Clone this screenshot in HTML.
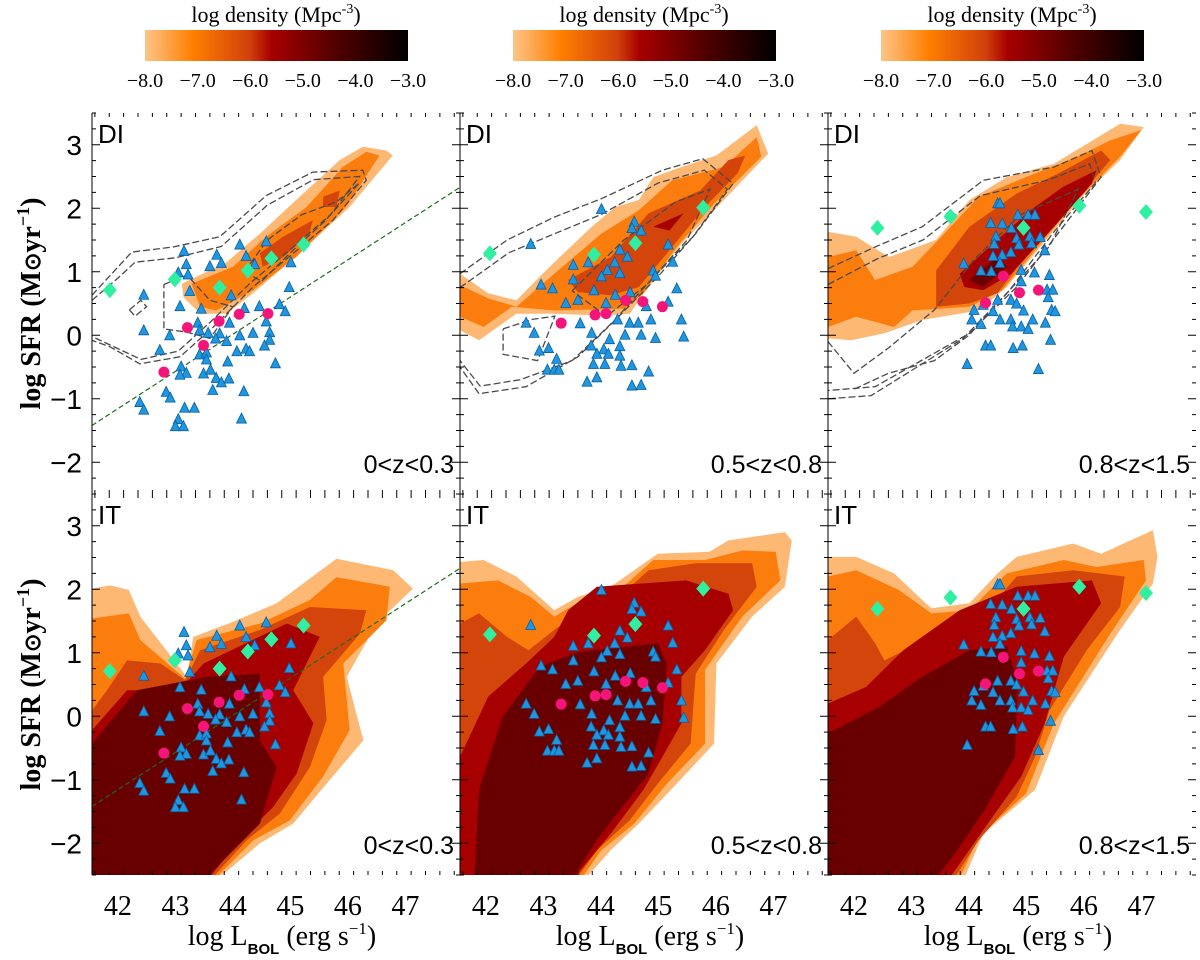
<!DOCTYPE html>
<html><head><meta charset="utf-8"><style>
html,body{margin:0;padding:0;background:#fff;}
svg{display:block;}
.sans{font-family:"Liberation Sans",sans-serif;}
.serif{font-family:"Liberation Serif",serif;}
</style></head><body>
<svg id="fig" width="1200" height="960" viewBox="0 0 1200 960" xmlns="http://www.w3.org/2000/svg">
<defs>
<linearGradient id="cbg" x1="0" x2="1" y1="0" y2="0">
<stop offset="0" stop-color="#fdc48a"/><stop offset="0.18" stop-color="#ff8000"/><stop offset="0.4" stop-color="#d0400a"/><stop offset="0.48" stop-color="#a80000"/><stop offset="0.7" stop-color="#5a0000"/><stop offset="1" stop-color="#000"/>
</linearGradient>
</defs>
</svg>
<script>
// ---------- data ----------
const levelColors = ["#fdb874","#fb7d0e","#d4450c","#a60000","#680000"];
const cbTicks = ["-8.0","-7.0","-6.0","-5.0","-4.0","-3.0"];
const xTicks = [42,43,44,45,46,47];
const yTicks = [-2,-1,0,1,2,3];
const zLabels = ["0<z<0.3","0.5<z<0.8","0.8<z<1.5"];
const fitX = [41.55,47.95];
const fitY = [-1.42,2.33];

const z1Dia = [[41.86,0.71],[42.99,0.88],[43.77,0.75],[44.26,1.02],[44.67,1.21],[45.23,1.43]];
const z1Mag = [[43.21,0.12],[43.49,-0.16],[42.80,-0.58],[43.76,0.22],[44.11,0.33],[44.61,0.34]];
const z1Tri = [[44.12,1.42],[44.58,1.47],[43.15,1.32],[43.72,1.26],[43.19,1.11],[43.60,1.08],[44.23,1.24],[44.38,1.11],[43.80,1.13],[45.01,1.14],[43.05,0.98],[43.22,0.95],[43.25,0.69],[43.97,0.62],[44.98,0.75],[42.45,0.63],[43.08,0.45],[43.45,0.41],[44.20,0.42],[44.46,0.45],[44.81,0.48],[44.91,0.37],[42.45,0.07],[42.90,-0.01],[43.39,0.19],[43.42,0.07],[43.57,0.03],[43.77,0.02],[43.70,-0.06],[43.89,-0.10],[43.94,0.19],[44.12,-0.01],[44.35,0.03],[44.58,0.21],[44.64,0.04],[44.64,-0.08],[44.55,-0.17],[44.23,-0.22],[44.29,-0.26],[44.07,-0.26],[42.73,-0.24],[43.42,-0.31],[43.54,-0.28],[43.54,-0.39],[43.91,-0.42],[43.10,-0.50],[43.19,-0.60],[43.08,-0.63],[43.49,-0.61],[43.61,-0.55],[43.71,-0.68],[43.80,-0.75],[43.93,-0.69],[42.84,-0.90],[42.91,-0.99],[43.65,-0.87],[44.19,-0.89],[42.38,-1.06],[42.45,-1.18],[43.16,-1.15],[43.33,-1.15],[43.05,-1.33],[43.00,-1.44],[43.14,-1.44],[44.15,-1.32],[44.74,-0.45]];

const z2Dia = [[42.07,1.29],[43.88,1.27],[44.60,1.45],[45.78,2.01]];
const z2Mag = [[43.31,0.19],[43.90,0.32],[44.09,0.34],[44.43,0.55],[44.73,0.53],[45.07,0.45]];
const z2Tri = [[42.78,1.43],[44.01,1.98],[44.58,1.78],[44.54,1.68],[44.70,1.64],[45.17,1.42],[44.33,1.34],[43.78,1.14],[44.24,1.14],[44.46,1.23],[45.25,1.15],[43.52,1.10],[44.11,1.02],[44.33,0.97],[44.91,1.01],[44.95,0.93],[44.01,0.92],[43.52,0.87],[43.16,0.73],[42.96,0.79],[45.32,0.73],[43.88,0.70],[44.25,0.63],[44.51,0.67],[43.60,0.55],[43.39,0.50],[44.09,0.50],[45.17,0.52],[44.79,0.45],[43.64,0.18],[44.29,0.24],[44.50,0.19],[44.65,0.19],[44.87,0.24],[45.40,0.24],[42.70,0.19],[42.84,0.03],[43.84,0.03],[44.15,-0.07],[44.42,0.00],[44.70,0.00],[44.95,-0.05],[45.44,-0.03],[42.93,-0.25],[43.09,-0.21],[43.83,-0.17],[44.05,-0.23],[43.93,-0.30],[44.13,-0.30],[44.33,-0.18],[44.33,-0.33],[43.23,-0.38],[43.07,-0.55],[43.19,-0.55],[43.27,-0.55],[43.87,-0.46],[44.07,-0.46],[44.35,-0.49],[44.54,-0.48],[44.83,-0.58],[43.76,-0.74],[43.93,-0.67],[44.54,-0.80],[44.70,-0.79]];

const z3Dia = [[42.41,1.69],[43.68,1.87],[44.95,1.69],[45.92,2.04],[47.08,1.94]];
const z3Mag = [[44.60,0.93],[44.29,0.51],[44.88,0.67],[45.21,0.71]];
const z3Tri = [[44.50,2.07],[44.54,2.07],[44.85,1.89],[45.03,1.89],[45.15,1.89],[44.38,1.76],[44.58,1.75],[44.74,1.68],[44.47,1.55],[44.83,1.52],[45.06,1.55],[45.24,1.54],[44.44,1.43],[44.87,1.42],[45.09,1.44],[45.32,1.33],[44.42,1.24],[44.58,1.26],[44.73,1.30],[43.91,1.12],[44.21,1.01],[44.39,1.00],[44.54,1.13],[44.91,1.02],[45.14,0.98],[45.40,0.94],[44.91,0.84],[45.36,0.71],[45.46,0.71],[45.38,0.59],[44.73,0.55],[44.83,0.49],[44.50,0.55],[44.09,0.39],[44.25,0.47],[44.42,0.37],[44.54,0.24],[44.73,0.24],[44.95,0.38],[45.11,0.24],[45.44,0.39],[45.50,0.37],[44.05,0.24],[44.21,0.17],[44.76,0.13],[44.91,0.13],[45.03,0.09],[45.33,0.19],[45.42,-0.08],[44.29,-0.17],[44.38,-0.17],[44.77,-0.21],[44.93,-0.17],[43.97,-0.46],[45.21,-0.54]];

// filled density contours (data coords), levels 0..4
const tlFill = [
 [[43.11,0.81],[43.89,1.15],[44.47,1.60],[45.16,2.18],[45.86,2.76],[46.26,2.97],[46.67,2.91],[46.78,2.83],[46.03,2.02],[45.16,1.29],[44.35,0.66],[43.89,0.34],[43.43,0.34],[43.14,0.60]],
 [[43.28,0.81],[44.0,1.08],[44.58,1.55],[45.28,2.02],[45.91,2.65],[46.32,2.89],[46.55,2.83],[45.97,2.02],[45.10,1.23],[44.35,0.71],[43.71,0.39],[43.43,0.45]],
 [[44.47,1.29],[44.87,1.55],[45.39,1.81],[45.33,1.60],[44.87,1.23],[44.52,1.08]],
 [],[]];
const tlFill2 = [[45.57,2.18],[45.86,2.28],[45.80,2.02],[45.57,2.02]];
const tmFill = [
 [[41.55,0.97],[42.04,0.66],[42.53,0.55],[43.11,1.08],[43.84,1.71],[44.25,2.02],[44.66,2.13],[44.91,2.49],[45.40,2.65],[46.01,2.83],[46.71,3.31],[46.91,2.86],[46.14,2.13],[45.40,1.44],[44.83,0.76],[44.50,0.34],[44.01,0.31],[43.19,0.34],[42.53,0.34],[41.88,-0.08],[41.55,0.08]],
 [[41.55,0.79],[42.04,0.58],[42.53,0.45],[43.19,0.97],[44.01,1.60],[44.66,1.97],[45.24,2.44],[46.14,2.65],[46.71,3.12],[46.79,2.81],[45.97,2.07],[45.32,1.39],[44.74,0.66],[44.42,0.42],[43.19,0.39],[42.45,0.45],[41.96,0.13],[41.55,0.29]],
 [[43.43,0.87],[44.17,1.23],[44.83,1.92],[45.73,2.28],[46.22,2.76],[46.51,2.83],[46.38,2.55],[45.81,2.02],[45.15,1.29],[44.66,0.76],[44.17,0.63],[43.60,0.68]],
 [[44.91,1.71],[45.44,1.92],[45.19,1.65]],
 []];
const trFill = [
 [[41.55,1.63],[42.04,1.55],[42.61,1.23],[43.43,1.50],[44.01,2.13],[44.66,2.49],[45.48,2.70],[45.97,2.97],[46.63,3.33],[47.04,3.28],[46.63,2.76],[45.97,2.18],[45.24,1.39],[44.66,0.76],[44.17,0.39],[43.19,0.24],[42.53,0.03],[41.96,-0.08],[41.55,-0.05]],
 [[41.55,1.23],[42.04,1.34],[42.37,0.87],[43.02,1.08],[43.52,1.55],[44.17,2.18],[44.99,2.49],[45.89,2.81],[46.46,3.07],[47.00,3.23],[46.63,2.81],[45.89,2.13],[45.15,1.34],[44.58,0.71],[44.01,0.45],[43.02,0.39],[42.70,0.13],[42.04,0.29],[41.55,0.13]],
 [[43.43,1.02],[44.01,1.71],[44.83,2.23],[45.56,2.55],[46.30,2.91],[46.46,2.76],[45.81,2.07],[45.15,1.44],[44.50,0.66],[44.01,0.50],[43.43,0.45]],
 [[43.84,0.97],[44.42,1.44],[45.07,1.97],[45.64,2.34],[46.22,2.60],[46.14,2.39],[45.48,1.71],[44.74,0.97],[44.25,0.71],[43.92,0.76]],
 [[44.00,0.87],[44.50,1.23],[44.66,1.08],[44.25,0.76]]];
const blFill = [
 [[41.55,2.01],[41.87,2.06],[42.19,1.99],[42.39,1.57],[43.20,0.62],[43.31,1.25],[44.01,1.49],[44.76,1.78],[45.80,2.48],[46.79,2.30],[47.13,2.01],[46.50,1.46],[45.98,0.62],[46.27,-0.38],[45.63,-1.06],[45.05,-1.69],[44.47,-2.0],[43.78,-2.53],[41.55,-2.53]],
 [[41.55,1.54],[42.19,1.62],[42.39,1.20],[43.17,0.59],[43.37,1.20],[44.47,1.46],[45.34,1.83],[45.80,2.19],[46.73,2.04],[46.67,1.51],[45.92,0.83],[46.03,-0.22],[45.57,-0.95],[44.99,-1.64],[44.36,-1.95],[43.72,-2.53],[41.55,-2.53]],
 [[41.55,0.09],[41.81,0.41],[42.16,0.88],[42.74,0.83],[43.17,0.57],[43.43,1.04],[44.47,1.36],[45.34,1.72],[46.32,1.67],[46.21,1.30],[45.57,0.62],[45.63,-0.06],[45.34,-0.80],[44.82,-1.53],[44.24,-1.95],[43.66,-2.53],[41.55,-2.53]],
 [[41.55,-0.22],[42.16,0.41],[42.91,0.41],[43.20,0.54],[43.49,0.83],[44.94,1.46],[45.51,1.25],[45.05,0.41],[45.40,-0.11],[45.11,-0.90],[44.70,-1.43],[44.12,-1.95],[43.60,-2.53],[41.55,-2.53]],
 [[41.55,-0.43],[42.33,0.41],[43.55,0.62],[44.47,0.67],[44.47,-0.38],[44.76,-0.80],[44.47,-1.69],[44.01,-2.11],[43.55,-2.53],[41.55,-2.53]]];
const bmFill = [
 [[41.55,2.43],[41.96,2.46],[42.53,2.20],[43.19,1.67],[43.60,1.88],[44.17,2.04],[44.99,2.56],[45.89,2.59],[46.22,2.77],[47.20,2.90],[47.32,2.77],[47.20,2.04],[46.63,1.57],[46.01,0.83],[45.97,-0.43],[45.32,-1.06],[44.66,-1.69],[44.17,-2.11],[43.76,-2.53],[41.55,-2.53]],
 [[41.55,2.09],[42.21,2.14],[42.78,1.88],[43.19,1.57],[43.68,1.83],[44.25,1.93],[44.91,2.46],[45.81,2.46],[46.46,2.61],[47.04,2.59],[47.12,2.14],[46.46,1.57],[45.81,0.73],[45.81,-0.43],[45.15,-1.06],[44.58,-1.69],[44.01,-2.11],[43.68,-2.53],[41.55,-2.53]],
 [[41.55,1.46],[41.88,1.62],[42.37,1.25],[42.74,1.04],[43.19,1.36],[43.68,1.67],[44.25,1.83],[44.83,2.30],[45.65,2.41],[46.63,2.41],[46.71,2.04],[46.14,1.36],[45.65,0.67],[45.56,-0.43],[44.99,-1.06],[44.50,-1.64],[43.93,-2.11],[43.60,-2.53],[41.55,-2.53]],
 [[41.55,-0.64],[42.04,0.31],[42.70,0.83],[43.19,1.25],[43.43,1.67],[43.93,2.04],[45.48,2.14],[46.22,1.93],[46.30,1.67],[45.81,1.04],[45.40,0.62],[45.40,-0.11],[45.07,-0.64],[44.74,-1.16],[44.17,-1.85],[43.55,-2.53],[41.55,-2.53]],
 [[41.80,-2.53],[41.88,-1.16],[42.29,-0.01],[42.94,0.78],[43.60,1.01],[44.99,1.15],[45.15,0.83],[45.07,-0.11],[44.83,-0.90],[44.33,-1.48],[43.93,-1.95],[43.52,-2.53]]];
const brFill = [
 [[41.55,2.51],[42.04,2.51],[42.70,2.25],[43.19,1.83],[43.35,1.70],[44.01,1.78],[44.50,2.25],[44.83,2.51],[45.81,2.72],[46.30,2.56],[47.20,2.93],[47.28,2.51],[47.20,2.09],[46.63,1.36],[45.65,0.0],[45.15,-1.16],[44.25,-1.85],[43.93,-2.53],[41.55,-2.53]],
 [[41.55,2.20],[42.04,2.30],[42.78,1.99],[43.35,1.62],[44.01,1.67],[44.66,2.25],[45.65,2.46],[46.22,2.35],[47.04,2.46],[47.08,2.14],[46.46,1.30],[45.48,-0.11],[44.99,-1.22],[44.17,-1.90],[43.85,-2.53],[41.55,-2.53]],
 [[41.55,1.20],[42.04,1.57],[42.37,1.15],[42.53,0.88],[43.35,1.25],[44.17,1.51],[44.83,2.20],[45.81,2.30],[46.71,2.20],[46.63,1.72],[46.05,1.04],[45.40,0.09],[45.15,-0.64],[44.83,-1.27],[44.17,-1.95],[43.76,-2.53],[41.55,-2.53]],
 [[41.55,0.20],[42.21,0.46],[42.86,1.04],[43.84,1.67],[44.83,2.04],[46.14,2.14],[46.30,1.78],[45.65,0.94],[45.32,-0.11],[44.91,-0.95],[44.33,-1.69],[43.68,-2.53],[41.55,-2.53]],
 [[41.55,-0.27],[42.45,0.15],[43.19,0.62],[44.01,1.04],[44.66,1.10],[44.85,0.55],[44.80,-0.64],[44.30,-1.43],[43.80,-2.11],[43.45,-2.53],[41.55,-2.53]]];

// dashed (AGN-only density) contour lines for DI row
const tlLines = [
 [[41.55,0.63],[42.24,1.31],[42.96,1.39],[43.77,1.55],[44.58,2.2],[45.39,2.57],[46.26,2.6],[46.32,2.44],[45.74,1.81],[45.05,1.29],[44.35,0.76],[43.66,0.13],[43.08,-0.34],[42.38,-0.45],[41.86,-0.18],[41.55,-0.08]],
 [[41.55,0.55],[42.0,0.9],[42.3,1.15],[43.0,1.22],[43.8,1.4],[44.6,2.05],[45.4,2.45],[46.2,2.5],[45.7,1.9],[45.0,1.35],[44.3,0.82],[43.6,0.2],[43.05,-0.25],[42.4,-0.38],[41.55,-0.02]],
 [[42.8,0.8],[43.2,0.95],[43.6,0.55],[44.0,0.45],[43.6,-0.05],[43.2,0.05],[42.8,0.1],[42.8,0.8]],
 [[44.2,1.0],[44.6,1.5],[45.2,1.9],[45.8,2.1],[46.2,2.4],[45.6,1.8],[45.0,1.3],[44.5,0.85],[44.2,1.0]],
 [[42.2,0.4],[42.4,0.55],[42.5,0.45],[42.3,0.3],[42.2,0.4]]];
const tmLines = [
 [[41.55,0.97],[42.37,1.50],[43.19,1.86],[44.01,2.15],[45.07,2.60],[45.77,2.78],[46.30,2.39],[45.65,1.60],[44.99,0.92],[44.25,0.24],[43.60,-0.34],[42.70,-0.81],[41.88,-0.92],[41.55,-0.50]],
 [[41.55,0.75],[42.4,1.3],[43.2,1.6],[44.0,1.9],[45.0,2.4],[45.8,2.6],[46.2,2.3],[45.6,1.55],[44.9,0.9],[44.2,0.2],[43.5,-0.4],[42.6,-0.7],[41.9,-0.8],[41.55,-0.4]],
 [[42.3,0.1],[42.8,0.25],[43.2,0.3],[42.9,-0.4],[42.3,-0.3],[42.3,0.1]],
 [[43.5,0.7],[44.4,1.5],[45.3,2.1],[45.9,2.3],[45.5,1.5],[44.8,0.8],[44.1,0.3],[43.5,0.7]]];
const trLines = [
 [[41.55,1.05],[42.37,1.39],[43.19,1.71],[44.25,2.44],[45.48,2.65],[46.14,2.91],[46.30,2.49],[45.64,1.71],[44.83,0.76],[44.01,0.03],[43.19,-0.39],[42.37,-0.81],[41.55,-0.87]],
 [[41.55,0.8],[42.4,1.2],[43.2,1.5],[44.2,2.2],[45.4,2.45],[46.1,2.7],[46.2,2.4],[45.5,1.65],[44.7,0.7],[43.9,-0.05],[43.1,-0.5],[42.3,-0.95],[41.55,-1.0]],
 [[41.55,-0.1],[42.0,-0.6],[42.6,-0.2],[43.4,0.4],[44.1,1.2],[44.9,1.9],[45.9,2.3],[45.4,1.4],[44.6,0.6],[44.0,0.0],[43.4,-0.4],[42.6,-0.6],[42.0,-0.85]]];

// ---------- layout ----------
const NS = "http://www.w3.org/2000/svg";
const svg = document.getElementById('fig');
const lefts = [92,460,828], W = 368;
const tops = [113,494], H = 381;
const XMIN = 41.55, XMAX = 47.95, YMIN = -2.5, YMAX = 3.5;
function el(tag, attrs, parent){const e=document.createElementNS(NS,tag);for(const k in attrs)e.setAttribute(k,attrs[k]);(parent||svg).appendChild(e);return e;}
function sx(c,v){return lefts[c]+(v-XMIN)/(XMAX-XMIN)*W;}
function sy(r,v){return tops[r]+(YMAX-v)/(YMAX-YMIN)*H;}
function pts(c,r,arr){return arr.map(p=>sx(c,p[0]).toFixed(1)+","+sy(r,p[1]).toFixed(1)).join(" ");}

// colorbars
for(let c=0;c<3;c++){
  const x0=145+c*368;
  const g=el('g',{});
  
  
  const t=el('text',{x:x0+131,y:22,'text-anchor':'middle','font-size':22,class:'serif'},g);
  t.innerHTML='log density (Mpc<tspan dy="-9" font-size="14">-3</tspan><tspan dy="9">)</tspan>';
  
  
  el('rect',{x:x0,y:30,width:263,height:31,fill:'url(#cbg)'},g);
  cbTicks.forEach((lab,i)=>{
    const tt=el('text',{x:x0+i*263/5,y:87,'text-anchor':'middle','font-size':20,class:'serif'},g);
    tt.textContent=lab.replace('-','\u2212');
    
    
  });
}

const fills=[[tlFill,tmFill,trFill],[blFill,bmFill,brFill]];
const lines=[tlLines,tmLines,trLines];
const markers=[[z1Dia,z1Mag,z1Tri],[z2Dia,z2Mag,z2Tri],[z3Dia,z3Mag,z3Tri]];

for(let r=0;r<2;r++)for(let c=0;c<3;c++){
  const g=el('g',{});
  
  
  const cid='clip'+r+c;
  const cp=el('clipPath',{id:cid},g);
  el('rect',{x:lefts[c],y:tops[r],width:W,height:H},cp);
  const pg=el('g',{'clip-path':'url(#'+cid+')'},g);
  fills[r][c].forEach((poly,li)=>{
    if(!poly.length)return;
    const p=el('polygon',{points:pts(c,r,poly),fill:levelColors[li]},pg);
    
    
  });
  if(r===0&&c===0){
    const p=el('polygon',{points:pts(c,r,tlFill2),fill:levelColors[2]},pg);
    
    
  }
  if(r===0){
    lines[c].forEach(l=>{
      const p=el('polyline',{points:pts(c,r,l),fill:'none',stroke:'#4a4a4a','stroke-width':1.3,'stroke-dasharray':'7,3'},pg);
      
      
    });
  }
  if(c===0){
    const p=el('line',{x1:sx(c,fitX[0]),y1:sy(r,fitY[0]),x2:sx(c,fitX[1]),y2:sy(r,fitY[1]),stroke:'#1d6b1d','stroke-width':1.2,'stroke-dasharray':'5,3'},pg);
    
    
  }
  const [dia,mag,tri]=markers[c];
  tri.forEach(d=>{
    const x=sx(c,d[0]),y=sy(r,d[1]);
    const p=el('polygon',{points:`${x},${y-6} ${x-5},${y+4} ${x+5},${y+4}`,fill:'#1e96e0',stroke:'#0a5fa0','stroke-width':0.8},pg);
    
    
  });
  mag.forEach(d=>{
    const p=el('circle',{cx:sx(c,d[0]),cy:sy(r,d[1]),r:5.5,fill:'#f5157a'},pg);
    
    
  });
  dia.forEach(d=>{
    const x=sx(c,d[0]),y=sy(r,d[1]);
    const p=el('polygon',{points:`${x},${y-8} ${x+7},${y} ${x},${y+8} ${x-7},${y}`,fill:'#2ef0a0'},pg);
    
    
  });
  const ag=el('g',{stroke:'#000','stroke-width':1},g);
  
  
  el('line',{x1:lefts[c],y1:tops[r],x2:lefts[c],y2:tops[r]+H},ag);
  for(let v=-2.5;v<=3.5;v+=0.25){
    const y=sy(r,v), major=Math.abs(v-Math.round(v))<1e-6;
    el('line',{x1:lefts[c],y1:y,x2:lefts[c]+(major?8:4),y2:y},ag);
    el('line',{x1:lefts[c]+W,y1:y,x2:lefts[c]+W-(major?8:4),y2:y},ag);
  }
  for(let v=41.6;v<=47.9;v+=0.25){
    const x=sx(c,v);
    el('line',{x1:x,y1:tops[r],x2:x,y2:tops[r]+4},ag);
    el('line',{x1:x,y1:tops[r]+H,x2:x,y2:tops[r]+H-4},ag);
  }
  const lab=el('text',{x:lefts[c]+6,y:tops[r]+30,'font-size':26,class:'sans'},g);
  lab.textContent=r===0?'DI':'IT';
  
  
  const zl=el('text',{x:lefts[c]+W-6,y:tops[r]+H-21,'font-size':25,'text-anchor':'end',class:'sans'},g);
  zl.textContent=zLabels[c];
  
  
  if(c===0){
    yTicks.forEach(v=>{
      const t=el('text',{x:82,y:sy(r,v)+10,'font-size':28,'text-anchor':'end',class:'sans'},g);
      t.textContent=v<0?'\u2212'+Math.abs(v):String(v);
      
      
    });
    const cy=tops[r]+H/2;
    const yt=el('text',{x:0,y:0,'font-size':28,'font-weight':'bold','text-anchor':'middle',class:'serif',transform:`translate(40,${cy}) rotate(-90)`},g);
    yt.innerHTML='log SFR (M<tspan font-size="22">\u2299</tspan>yr<tspan dy="-11" font-size="18">\u22121</tspan><tspan dy="11">)</tspan>';
    
    
  }
  if(r===1){
    xTicks.forEach(v=>{
      const t=el('text',{x:sx(c,v),y:915,'font-size':28,'text-anchor':'middle',class:'serif'},g);
      t.textContent=v;
      
      
    });
    const xt=el('text',{x:lefts[c]+190,y:945,'font-size':28,'text-anchor':'middle',class:'serif'},g);
    xt.innerHTML='log L<tspan dy="9" font-size="15" font-weight="bold" font-family="Liberation Sans">BOL</tspan><tspan dy="-9"> (erg s</tspan><tspan dy="-11" font-size="17">\u22121</tspan><tspan dy="11">)</tspan>';
    
    
  }
}
</script>
</body></html>
